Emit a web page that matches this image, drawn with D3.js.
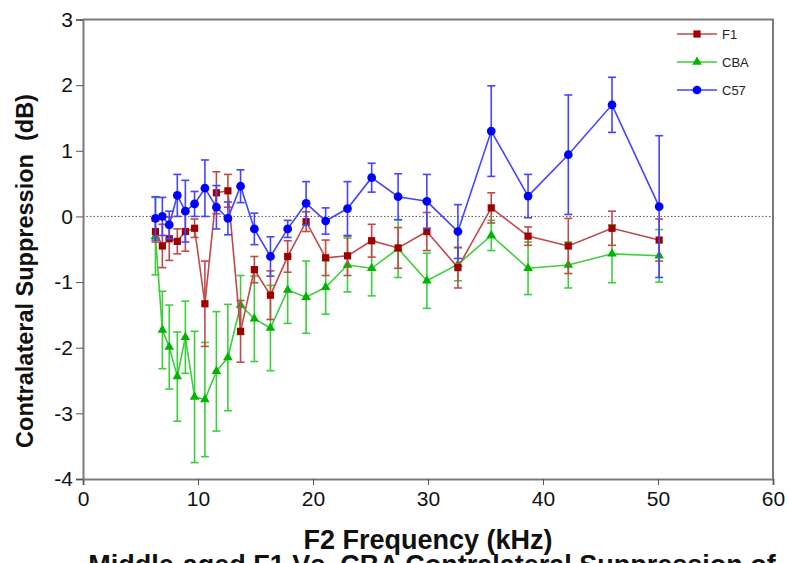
<!DOCTYPE html>
<html>
<head>
<meta charset="utf-8">
<script src="https://cdn.jsdelivr.net/npm/d3@7"></script>
<style>
  body { margin: 0; background: #fff; }
  svg { display: block; }
</style>
</head>
<body>
<div id="chart"></div>
<script>
'use strict'

// F2 frequencies (kHz)
const freqs = [6.3, 6.9, 7.5, 8.2, 8.9, 9.7, 10.6, 11.6, 12.6, 13.7, 14.9, 16.3, 17.8,
               19.4, 21.1, 23.0, 25.1, 27.4, 29.9, 32.6, 35.5, 38.7, 42.2, 46.0, 50.1]

// F1
const f1Mean = [-0.23, -0.45, -0.34, -0.38, -0.23, -0.18, -1.33, 0.36, 0.39, -1.75, -0.81, -1.20, -0.61,
                -0.08, -0.63, -0.60, -0.37, -0.48, -0.23, -0.78, 0.13, -0.30, -0.45, -0.18, -0.36]
const f1Err  = [0.16, 0.33, 0.33, 0.19, 0.30, 0.14, 0.65, 0.32, 0.25, 0.47, 0.20, 0.37, 0.24,
                0.15, 0.27, 0.30, 0.25, 0.31, 0.29, 0.31, 0.23, 0.14, 0.42, 0.26, 0.32]

// CBA
const cbaMean = [-0.30, -1.73, -1.99, -2.44, -1.84, -2.75, -2.79, -2.36, -2.15, -1.35, -1.56, -1.70, -1.12,
                 -1.23, -1.08, -0.74, -0.79, -0.49, -0.98, -0.73, -0.29, -0.79, -0.74, -0.57, -0.60]
const cbaErr  = [0.59, 0.59, 0.64, 0.68, 0.55, 1.00, 0.87, 0.91, 0.81, 0.45, 0.65, 0.65, 0.51,
                 0.55, 0.41, 0.41, 0.42, 0.44, 0.42, 0.25, 0.23, 0.40, 0.35, 0.44, 0.40]

// C57
const c57Mean = [-0.03, 0.00, -0.13, 0.32, 0.08, 0.19, 0.43, 0.14, -0.03, 0.46, -0.19, -0.61, -0.19,
                 0.20, -0.07, 0.12, 0.59, 0.30, 0.23, -0.23, 1.30, 0.31, 0.94, 1.70, 0.15]
const c57Err  = [0.33, 0.29, 0.21, 0.32, 0.47, 0.19, 0.43, 0.33, 0.25, 0.25, 0.24, 0.30, 0.13,
                 0.33, 0.20, 0.41, 0.22, 0.35, 0.41, 0.41, 0.69, 0.33, 0.91, 0.42, 1.08]

const xTicks = [0, 10, 20, 30, 40, 50, 60]
const yTicks = [-4, -3, -2, -1, 0, 1, 2, 3]

const series = [
  {name: 'CBA', mean: cbaMean, err: cbaErr, line: '#3ccf3c', mark: '#00b400', shape: d3.symbolTriangle, size: 40},
  {name: 'F1',  mean: f1Mean,  err: f1Err,  line: '#bf4a4a', mark: '#a00000', shape: d3.symbolSquare,   size: 52},
  {name: 'C57', mean: c57Mean, err: c57Err, line: '#4444ff', mark: '#0000ff', shape: d3.symbolCircle,   size: 60}
]
const legendOrder = ['F1', 'CBA', 'C57']

////////////////////////////////////
//////////// svg setup /////////////
////////////////////////////////////

const svgWidth = 788
const svgHeight = 563
const margin = {left: 83, right: 15, top: 19.5, bottom: 84}
const width = svgWidth - margin.left - margin.right
const height = svgHeight - margin.top - margin.bottom

const svg = d3.select('#chart').append('svg')
  .attr('width', svgWidth)
  .attr('height', svgHeight)
  .style('font-family', '"Liberation Sans", Arial, sans-serif')

const g = svg.append('g')
  .attr('transform', `translate(${margin.left},${margin.top})`)

const x = d3.scaleLinear().domain([0, 60]).range([0, width])
const y = d3.scaleLinear().domain([-4, 3]).range([height, 0])

// zero reference line
g.append('line')
  .attr('x1', 0).attr('x2', width)
  .attr('y1', y(0)).attr('y2', y(0))
  .attr('stroke', '#555')
  .attr('stroke-width', 1)
  .attr('stroke-dasharray', '1.5,2')

// frame top/right
g.append('path')
  .attr('d', `M0,0H${width}V${height}`)
  .attr('fill', 'none')
  .attr('stroke', '#7a7a7a')
  .attr('stroke-width', 2)

// axes
const xAxis = g.append('g')
  .attr('transform', `translate(0,${height})`)
  .call(d3.axisBottom(x).tickValues(xTicks).tickSize(6).tickPadding(6).tickFormat(d3.format('d')))
const yAxis = g.append('g')
  .call(d3.axisLeft(y).tickValues(yTicks).tickSize(7).tickPadding(3).tickFormat(d3.format('d')))

;[xAxis, yAxis].forEach(a => {
  a.select('.domain').attr('stroke', '#7a7a7a').attr('stroke-width', 2)
  a.selectAll('.tick line').attr('stroke', '#555').attr('stroke-width', 1)
  a.selectAll('.tick text')
    .attr('fill', '#111')
    .style('font-size', '21px')
    .style('font-family', '"Liberation Sans", Arial, sans-serif')
})
yAxis.selectAll('.tick text').text(d => d < 0 ? '-' + Math.abs(d) : d)

// series
const line = d3.line()
  .x((d, i) => x(freqs[i]))
  .y(d => y(d))

series.forEach(s => {
  const sg = g.append('g').attr('class', 'series-' + s.name)

  // error bars
  const eb = sg.selectAll('.eb').data(s.mean).join('g').attr('class', 'eb')
  eb.append('line')
    .attr('x1', (d, i) => x(freqs[i])).attr('x2', (d, i) => x(freqs[i]))
    .attr('y1', (d, i) => y(d + s.err[i])).attr('y2', (d, i) => y(d - s.err[i]))
    .attr('stroke', s.line).attr('stroke-width', 1.6)
  eb.append('line')
    .attr('x1', (d, i) => x(freqs[i]) - 4).attr('x2', (d, i) => x(freqs[i]) + 4)
    .attr('y1', (d, i) => y(d + s.err[i])).attr('y2', (d, i) => y(d + s.err[i]))
    .attr('stroke', s.line).attr('stroke-width', 1.6)
  eb.append('line')
    .attr('x1', (d, i) => x(freqs[i]) - 4).attr('x2', (d, i) => x(freqs[i]) + 4)
    .attr('y1', (d, i) => y(d - s.err[i])).attr('y2', (d, i) => y(d - s.err[i]))
    .attr('stroke', s.line).attr('stroke-width', 1.6)

  sg.append('path')
    .datum(s.mean)
    .attr('d', line)
    .attr('fill', 'none')
    .attr('stroke', s.line)
    .attr('stroke-width', 1.6)

  sg.selectAll('.pt').data(s.mean).join('path')
    .attr('class', 'pt')
    .attr('d', d3.symbol().type(s.shape).size(s.size))
    .attr('transform', (d, i) => `translate(${x(freqs[i])},${y(d)})`)
    .attr('fill', s.mark)
})

// legend
const legend = svg.append('g').attr('transform', 'translate(677,34)')
legendOrder.forEach((name, k) => {
  const s = series.find(v => v.name === name)
  const lg = legend.append('g').attr('transform', `translate(0,${k * 28})`)
  lg.append('line').attr('x1', 0).attr('x2', 40).attr('y1', 0).attr('y2', 0)
    .attr('stroke', s.line).attr('stroke-width', 1.6)
  lg.append('path').attr('d', d3.symbol().type(s.shape).size(s.size))
    .attr('transform', 'translate(20,0)').attr('fill', s.mark)
  lg.append('text').attr('x', 45).attr('y', 0).attr('dy', '0.35em')
    .style('font-size', '13px').attr('fill', '#222').text(name)
})

// axis titles
svg.append('text')
  .attr('transform', 'translate(33,271) rotate(-90)')
  .attr('text-anchor', 'middle')
  .style('font-size', '23.5px').style('font-weight', 'bold').attr('fill', '#111')
  .attr('xml:space', 'preserve')
  .text('Contralateral Suppression  (dB)')

svg.append('text')
  .attr('x', 428).attr('y', 549)
  .attr('text-anchor', 'middle')
  .style('font-size', '27px').style('font-weight', 'bold').attr('fill', '#111')
  .text('F2 Frequency (kHz)')

// caption (cut off by the page edge)
svg.append('text')
  .attr('x', 432).attr('y', 574)
  .attr('text-anchor', 'middle')
  .style('font-size', '27px').style('font-weight', 'bold').attr('fill', '#111')
  .text('Middle-aged F1 Vs. CBA Contralateral Suppression of')
</script>
</body>
</html>
